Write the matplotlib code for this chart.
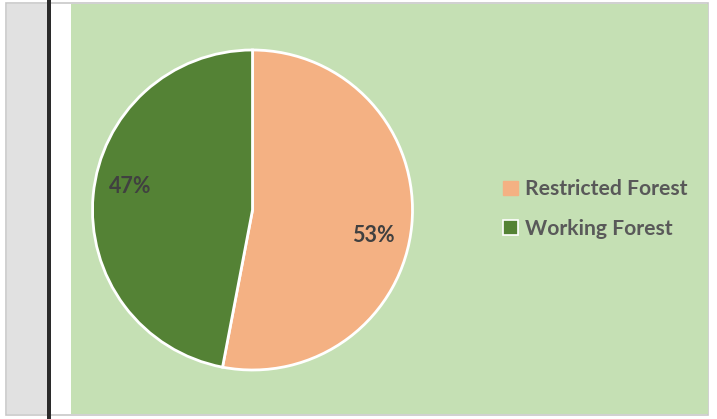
import numpy as np
import matplotlib
matplotlib.use("Agg")
import matplotlib.pyplot as plt
from matplotlib.patches import Rectangle, Patch

# forest area split
categories = ["Restricted Forest", "Working Forest"]
shares = [53, 47]
colors = ["#f4b183", "#548235"]

W, H = 717, 419
fig = plt.figure(figsize=(W / 100, H / 100), dpi=100)
fig.patch.set_facecolor("white")


def px_rect(x0, y0, x1, y1, **kw):
    # rectangle given in pixel coords (origin top-left), kept behind the axes
    r = Rectangle((x0 / W, 1 - y1 / H), (x1 - x0) / W, (y1 - y0) / H,
                  transform=fig.transFigure, zorder=-5, **kw)
    fig.patches.append(r)


# side panel, divider and chart background
px_rect(6, 3, 708, 415, facecolor="white", edgecolor="#c8c8c8", lw=1.2)
px_rect(7, 4, 47, 414, facecolor="#e1e1e1", edgecolor="none")
px_rect(47, 0, 51, H, facecolor="#2b2b2b", edgecolor="none")
px_rect(71, 4, 708, 414, facecolor="#c5e0b4", edgecolor="none")

cx, cy, rad = 252.5, 210, 160
ax = fig.add_axes([(cx - rad) / W, (H - cy - rad) / H, 2 * rad / W, 2 * rad / H])
ax.set_axis_off()
ax.patch.set_visible(False)

wedges, texts, autotexts = ax.pie(
    shares, colors=colors, startangle=90, counterclock=False,
    autopct="%.0f%%", pctdistance=0.78,
    wedgeprops=dict(edgecolor="white", linewidth=2),
    textprops=dict(fontsize=15.5, fontweight="bold", color="#404040", family="Lato"),
)
ax.set_xlim(-1, 1)
ax.set_ylim(-1, 1)

# nudge labels to sit like a best-fit placement
for t, ang, r in zip(autotexts, [-12, 169], [0.77, 0.78]):
    a = np.deg2rad(ang)
    t.set_position((r * np.cos(a), r * np.sin(a)))

handles = [Patch(facecolor=colors[0], edgecolor=colors[0]),
           Patch(facecolor=colors[1], edgecolor="white", linewidth=1.2)]
fig.legend(handles, categories, loc="center left",
           bbox_to_anchor=(484 / W, 1 - 209 / H), frameon=False,
           prop=dict(family="Lato", weight="bold", size=15.2),
           labelcolor="#595959", handlelength=0.7, handleheight=0.7,
           handletextpad=0.35, labelspacing=0.92)

fig.savefig("out.png", dpi=100)
